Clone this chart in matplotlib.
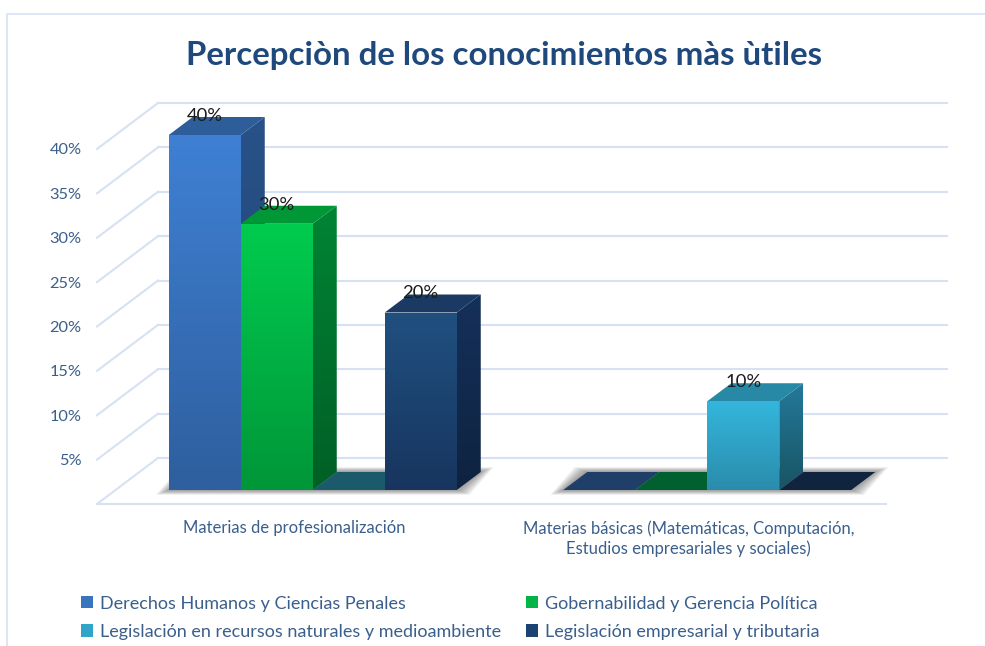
import numpy as np
import matplotlib
matplotlib.use('Agg')
import matplotlib.pyplot as plt
from matplotlib.colors import LinearSegmentedColormap
from matplotlib.lines import Line2D
from matplotlib.patches import Patch, Polygon

plt.rcParams['font.family'] = ['Lato', 'DejaVu Sans']

title = 'Percepciòn de los conocimientos màs ùtiles'
categories = ['Materias de profesionalización',
              'Materias básicas (Matemáticas, Computación,\nEstudios empresariales y sociales)']
series_names = ['Derechos Humanos y Ciencias Penales',
                'Gobernabilidad y Gerencia Política',
                'Legislación en recursos naturales y medioambiente',
                'Legislación empresarial y tributaria']
derechos = [40, 0]
gobernabilidad = [30, 0]
legislacion_rn = [0, 10]
legislacion_et = [20, 0]
y_ticks = [5, 10, 15, 20, 25, 30, 35, 40]

# colours per series: front top, front bottom, side top, side bottom, top face, top face at zero
front_top = ['#3f80d4', '#00cc4e', '#34b6dc', '#205080']
front_bottom = ['#2e5f9e', '#009639', '#2a8cac', '#17355f']
side_top = ['#285288', '#008434', '#23799a', '#15305a']
side_bottom = ['#1f4270', '#005f26', '#195464', '#0e2340']
top_face = ['#2d5e9a', '#009837', '#2789a6', '#1a3a64']
zero_face = ['#1f3f68', '#006030', '#1a5a6a', '#10243f']
legend_colors = ['#3a74bd', '#00b447', '#31a5c7', '#1c4272']

GRID = '#d6e2f3'
TEXT = '#3a5f8c'

# pixel layout of the front floor edge
PX_LEFT, PX_RIGHT, PX_BOTTOM, PX_TOP = 97, 886, 504, 149
W, H = 985, 646
ux = (PX_RIGHT - PX_LEFT) / 2   # pixels per category
uy = (PX_BOTTOM - PX_TOP) / 40  # pixels per percent

wall_dx, wall_dy = 61 / ux, 46 / uy
depth_dx, depth_dy = 24 / ux, 18 / uy
inset_dx, inset_dy = 18.5 / ux, 14 / uy
bar_w = 72 / ux

fig = plt.figure(figsize=(W / 100, H / 100), dpi=100)
ax = fig.add_axes([PX_LEFT / W, 1 - PX_BOTTOM / H, (PX_RIGHT - PX_LEFT) / W, (PX_BOTTOM - PX_TOP) / H])


def gradient_poly(pts, c_top, c_bottom):
    pts = np.array(pts)
    patch = Polygon(pts, closed=True, facecolor='none', edgecolor='none', clip_on=False, zorder=3)
    ax.add_patch(patch)
    cmap = LinearSegmentedColormap.from_list('g', [c_top, c_bottom])
    im = ax.imshow(np.linspace(0, 1, 256).reshape(-1, 1), cmap=cmap, aspect='auto', zorder=3,
                   extent=(pts[:, 0].min(), pts[:, 0].max(), pts[:, 1].min(), pts[:, 1].max()),
                   interpolation='bilinear')
    # bars stick out above the axes box, so clip on the face only
    im.set_clip_box(fig.bbox)
    im.set_clip_path(patch)


# walls and gridlines
ax.plot([0, 2], [0, 0], color=GRID, lw=1.5, clip_on=False, zorder=1)
for v in [0] + y_ticks:
    ax.plot([wall_dx, 2 + wall_dx], [v + wall_dy, v + wall_dy], color=GRID, lw=1.5, clip_on=False, zorder=1)
    ax.plot([0, wall_dx], [v, v + wall_dy], color=GRID, lw=1.5, clip_on=False, zorder=1)

values = np.array([derechos, gobernabilidad, legislacion_rn, legislacion_et])

for c in range(len(categories)):
    x0 = c + 0.5 + inset_dx - 2 * bar_w
    base = inset_dy
    # soft shadow on the floor
    for k in range(1, 9):
        gx, gy = k * 1.6 / ux, k * 0.6 / uy
        ax.add_patch(Polygon([(x0 - gx, base - gy), (x0 + 4 * bar_w + gx, base - gy),
                              (x0 + 4 * bar_w + depth_dx + gx, base + depth_dy + gy),
                              (x0 + depth_dx - gx, base + depth_dy + gy)],
                             closed=True, facecolor='#444444', edgecolor='none', alpha=0.08,
                             clip_on=False, zorder=2))
    for s in range(len(series_names)):
        v = values[s, c]
        x = x0 + s * bar_w
        top = base + v
        if v > 0:
            gradient_poly([(x + bar_w, base), (x + bar_w + depth_dx, base + depth_dy),
                           (x + bar_w + depth_dx, top + depth_dy), (x + bar_w, top)],
                          side_top[s], side_bottom[s])
            ax.fill([x, x + bar_w, x + bar_w + depth_dx, x + depth_dx],
                    [top, top, top + depth_dy, top + depth_dy],
                    color=top_face[s], lw=0, clip_on=False, zorder=3)
            bar = ax.bar(x, v, bottom=base, width=bar_w, align='edge', color=front_top[s], lw=0,
                         clip_on=False, zorder=3)[0]
            gradient_poly([(x, base), (x + bar_w, base), (x + bar_w, top), (x, top)],
                          front_top[s], front_bottom[s])
        else:
            ax.fill([x, x + bar_w, x + bar_w + depth_dx, x + depth_dx],
                    [base, base, base + depth_dy, base + depth_dy],
                    color=zero_face[s], lw=0, clip_on=False, zorder=3)

# data labels above the visible bars
for c in range(len(categories)):
    x0 = c + 0.5 + inset_dx - 2 * bar_w
    for s in range(len(series_names)):
        v = values[s, c]
        if v > 0:
            ax.text(x0 + (s + 0.5) * bar_w, inset_dy + v + 19 / uy, f'{v}%', ha='center', va='center',
                    fontsize=13.3, color='#1a1a1a', clip_on=False, zorder=5)

ax.set_xlim(0, 2)
ax.set_ylim(0, 40)
ax.set_xticks([0.5, 1.5], categories, fontsize=12, color=TEXT, linespacing=1.3)
ax.set_yticks(y_ticks, [f'{v}%' for v in y_ticks], fontsize=11.8, color=TEXT)
ax.tick_params(length=0)
ax.tick_params(axis='x', pad=11.5)
ax.tick_params(axis='y', pad=11)
for sp in ax.spines.values():
    sp.set_visible(False)
ax.patch.set_alpha(0)

# title and outer border
fig.text(504.5 / W, 1 - 55 / H, title, ha='center', va='center', fontsize=23.8, fontweight='bold', color='#1f497d')
fig.add_artist(Line2D([7 / W, 7 / W, 1], [0, 1 - 14 / H, 1 - 14 / H], color=GRID, lw=1.2))

# legend, filled column by column
order = [0, 2, 1, 3]
handles = [Patch(facecolor=legend_colors[i], edgecolor='none') for i in order]
labels = [series_names[i] for i in order]
fig.legend(handles, labels, ncols=2, frameon=False, loc='lower left',
           bbox_to_anchor=(68 / W, -6.5 / H), fontsize=13, labelcolor=TEXT,
           handlelength=0.66, handleheight=0.66, handletextpad=0.4, columnspacing=1.38,
           labelspacing=0.68, borderpad=0.2)

fig.savefig('out.png', dpi=100)
